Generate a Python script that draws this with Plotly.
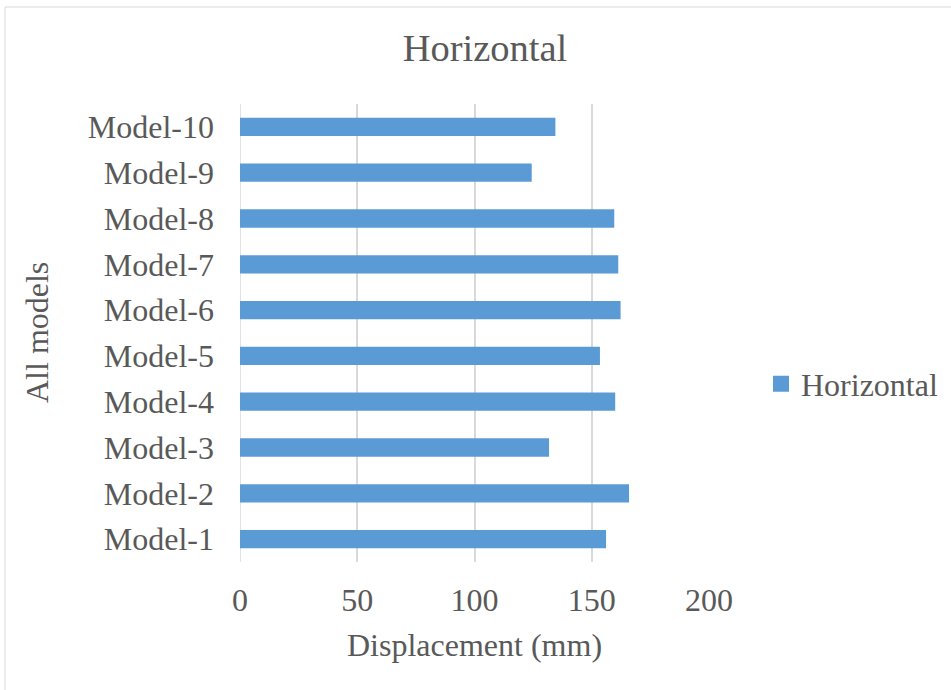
import plotly.graph_objects as go

categories = ["Model-1", "Model-2", "Model-3", "Model-4", "Model-5",
              "Model-6", "Model-7", "Model-8", "Model-9", "Model-10"]
horizontal = [156.1, 165.9, 131.8, 160.0, 153.5, 162.3, 161.3, 159.6, 124.4, 134.5]
x_ticks = [0, 50, 100, 150, 200]

FONT = "Liberation Serif, Times New Roman, serif"
TXT = "#595959"
BAR = "#5B9BD5"

W, H = 951, 690
L, R, T, B = 240, 242, 104, 128
pw, ph = W - L - R, H - T - B

def px_x(p):
    return (p - L) / pw

def px_y(p):
    return (H - B - p) / ph

fig = go.Figure()
fig.add_trace(go.Bar(
    y=categories, x=horizontal, orientation="h", name="Horizontal",
    marker=dict(color=BAR, line=dict(width=0)),
    showlegend=False,
))
# legend entry with a larger square swatch
fig.add_trace(go.Scatter(
    x=[None], y=[None], mode="markers", name="Horizontal",
    marker=dict(symbol="square", size=17, color=BAR),
    showlegend=True, hoverinfo="skip",
))

fig.update_layout(
    width=W, height=H,
    margin=dict(l=L, r=R, t=T, b=B, autoexpand=False),
    paper_bgcolor="white", plot_bgcolor="white",
    bargap=0.6,
    font=dict(family=FONT, color=TXT, size=32),
    title=dict(text="Horizontal", x=485 / W, xanchor="center",
               y=1 - 48 / H, yanchor="middle",
               font=dict(family=FONT, size=38.5, color=TXT)),
    showlegend=True,
    legend=dict(x=px_x(761), xanchor="left", y=px_y(384), yanchor="middle",
                font=dict(family=FONT, size=32, color=TXT),
                bgcolor="rgba(0,0,0,0)"),
    xaxis=dict(range=[0, 200], tickvals=x_ticks, ticktext=[str(v) for v in x_ticks],
               showgrid=True, gridcolor="#D9D9D9", gridwidth=1.5,
               zeroline=False, showline=False, ticks="",
               ticklabelstandoff=16,
               tickfont=dict(family=FONT, size=32, color=TXT), fixedrange=True),
    yaxis=dict(categoryorder="array", categoryarray=categories,
               showgrid=False, zeroline=False, showline=False, ticks="",
               ticklabelstandoff=25,
               tickfont=dict(family=FONT, size=32, color=TXT), fixedrange=True),
    shapes=[
        dict(type="rect", xref="paper", yref="paper",
             x0=px_x(5), x1=px_x(960), y0=px_y(700), y1=px_y(7),
             line=dict(color="#D9D9D9", width=1), fillcolor="rgba(0,0,0,0)",
             layer="below"),
        dict(type="line", xref="x", yref="paper", x0=0, x1=0, y0=0, y1=1,
             line=dict(color="#D9D9D9", width=1.5), layer="below"),
    ],
    annotations=[
        dict(text="All models", xref="paper", yref="paper",
             x=px_x(37), y=0.5, xanchor="center", yanchor="middle",
             textangle=-90, showarrow=False,
             font=dict(family=FONT, size=32, color=TXT)),
        dict(text="Displacement (mm)", xref="paper", yref="paper",
             x=px_x(474), y=px_y(645), xanchor="center", yanchor="middle",
             showarrow=False, font=dict(family=FONT, size=32, color=TXT)),
    ],
)

fig.write_html("out.html",
               config={"displayModeBar": False},
               post_script="document.body.style.margin='0';document.body.style.overflow='hidden';")
